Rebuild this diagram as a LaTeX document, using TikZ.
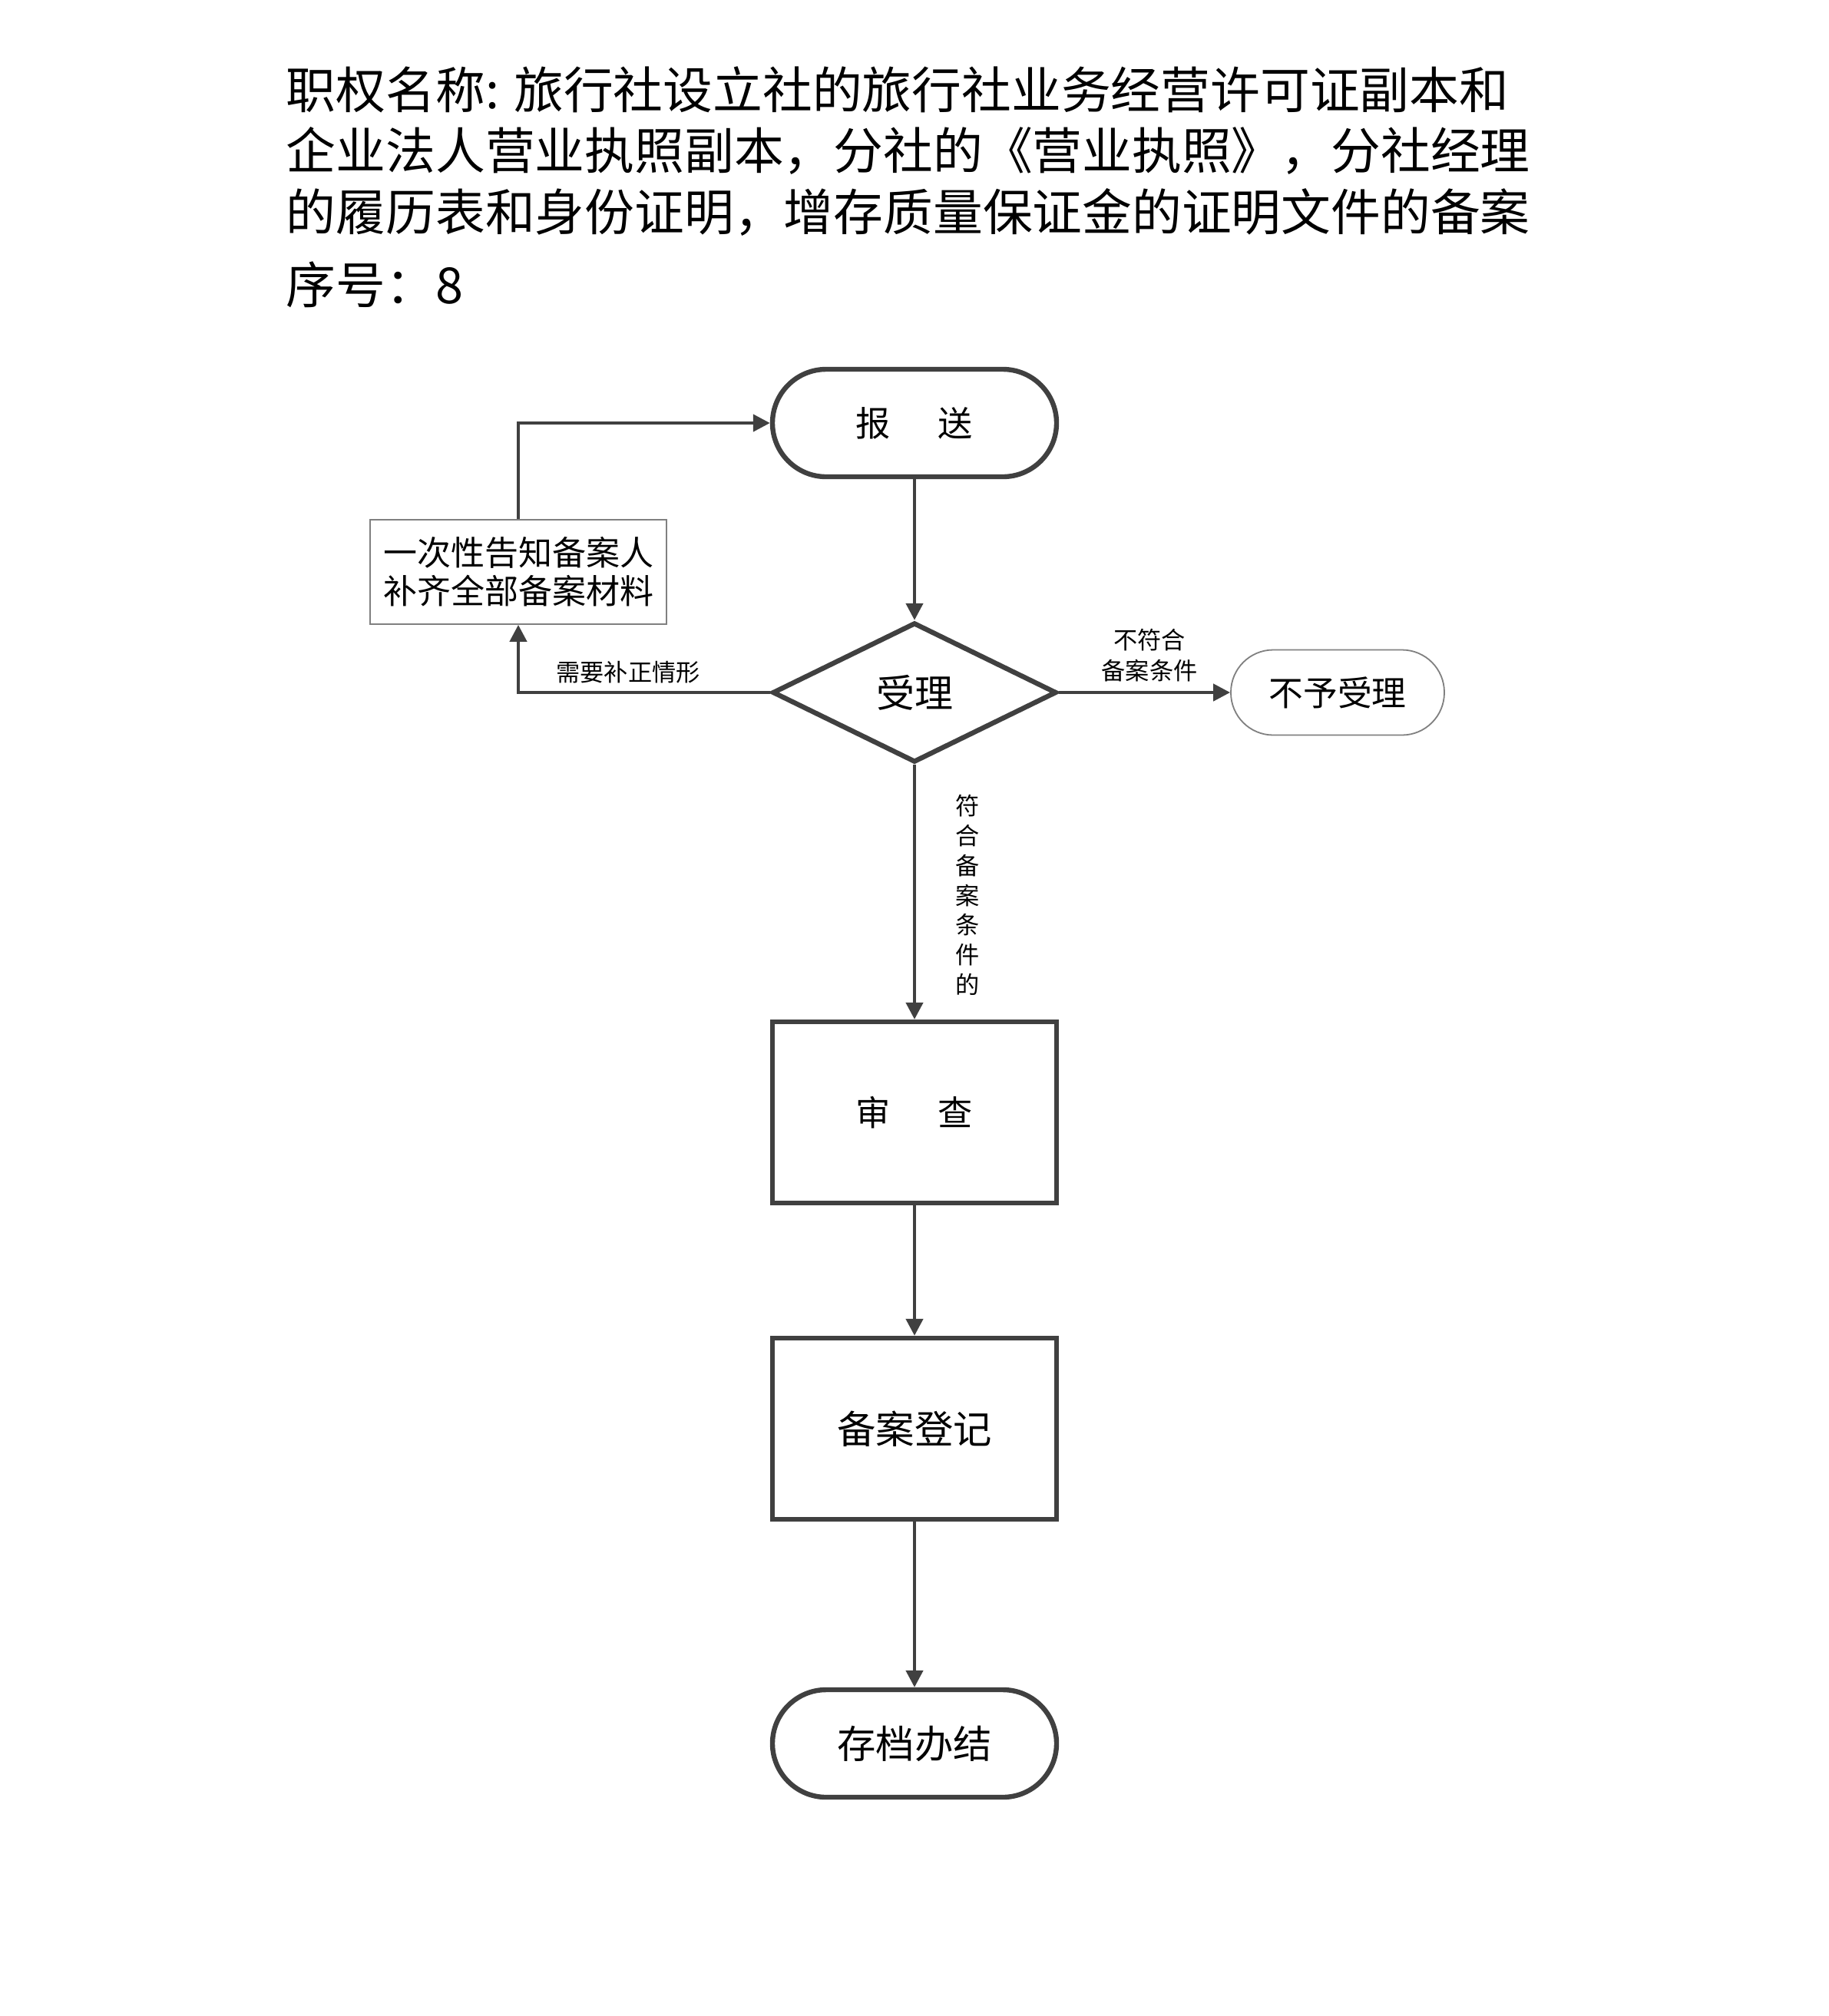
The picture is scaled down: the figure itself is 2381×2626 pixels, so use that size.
\documentclass[tikz,border=0pt]{standalone}
\usepackage{fontspec}
\setmainfont{Noto Sans CJK SC}
\usetikzlibrary{shapes.geometric,arrows.meta}
\definecolor{lc}{HTML}{404040}
\definecolor{thin}{HTML}{808080}
\tikzset{
  x=0.25pt,y=-0.25pt,
  titletext/.style={anchor=west,inner sep=0pt,font=\fontsize{16.2pt}{19pt}\selectfont},
  stadium/.style={draw=lc,line width=1.6pt,rectangle,rounded corners=17.5pt,minimum width=92.5pt,minimum height=35pt,inner sep=0pt,font=\fontsize{11.3pt}{13pt}\selectfont},
  procbox/.style={draw=lc,line width=1.6pt,rectangle,minimum width=92.5pt,minimum height=59pt,inner sep=0pt,font=\fontsize{11.3pt}{13pt}\selectfont},
  bigtext/.style={font=\fontsize{12.6pt}{14pt}\selectfont},
  decision/.style={draw=lc,line width=1.6pt,diamond,minimum width=92.5pt,minimum height=45.5pt,inner sep=0pt,font=\fontsize{12.5pt}{14pt}\selectfont},
  thinbox/.style={draw=thin,line width=0.45pt,rectangle,minimum width=96.5pt,minimum height=34pt,inner sep=0pt,align=center,font=\fontsize{11pt}{12.5pt}\selectfont},
  thinstadium/.style={draw=thin,line width=0.45pt,rectangle,rounded corners=13.8pt,minimum width=69.5pt,minimum height=27.75pt,inner sep=0pt,font=\fontsize{11.2pt}{13pt}\selectfont},
  conn/.style={draw=lc,line width=1.1pt,-{Triangle[length=5.5pt,width=5.5pt]}},
  lbl/.style={inner sep=0pt,align=center,font=\fontsize{7.8pt}{10pt}\selectfont}
}
\begin{document}
\begin{tikzpicture}
\useasboundingbox[fill=white] (0,0) rectangle (2381,2626);
% title
\node[titletext] (t1) at (372,117) {职权名称: 旅行社设立社的旅行社业务经营许可证副本和};
\node[titletext] (t2) at (372,196) {企业法人营业执照副本，分社的《营业执照》，分社经理};
\node[titletext] (t3) at (372,276) {的履历表和身份证明，增存质量保证金的证明文件的备案};
\node[titletext] (t4) at (372,371) {序号：8};
% nodes
\node[stadium] (bs) at (1191,551) {报\hspace{15.5pt}送};
\node[decision] (sl) at (1191,902) {受理};
\node[thinstadium] (by) at (1742,902) {不予受理};
\node[thinbox] (gz) at (675,745) {一次性告知备案人\\补齐全部备案材料};
\node[procbox] (sc) at (1191,1449) {审\hspace{15.5pt}查};
\node[procbox,bigtext] (ba) at (1191,1861) {备案登记};
\node[stadium,bigtext] (cd) at (1191,2271) {存档办结};
% connectors
\draw[conn] (bs.south) -- (sl.north);
\draw[conn] (sl.south) -- (sc.north);
\draw[conn] (sc.south) -- (ba.north);
\draw[conn] (ba.south) -- (cd.north);
\draw[conn] (sl.east) -- (by.west);
\draw[conn] (sl.west) -| (gz.south);
\draw[conn] (gz.north) |- (bs.west);
% labels
\node[lbl] (l1) at (818,876) {需要补正情形};
\node[lbl] (l2) at (1497,854) {不符合\\备案条件};
\node[lbl,font=\fontsize{7.8pt}{9.7pt}\selectfont] (l3) at (1260,1166) {符\\合\\备\\案\\条\\件\\的};
\end{tikzpicture}
\end{document}
